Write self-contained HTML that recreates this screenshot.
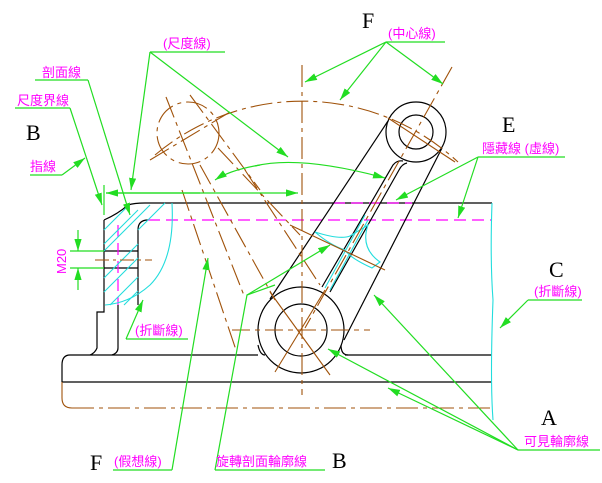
<!DOCTYPE html>
<html><head><meta charset="utf-8"><style>
body{margin:0;background:#fff}
svg{display:block}
.k{stroke:#000;fill:none;stroke-width:1.2}
.br{stroke:#a0520a;fill:none;stroke-width:1.1}
.bd{stroke:#a0520a;fill:none;stroke-width:1.1;stroke-dasharray:22 5 4 5}
.g{stroke:#22dd22;fill:none;stroke-width:1.2}
.c{stroke:#22dddd;fill:none;stroke-width:1.1}
.m{stroke:#ff00ff;fill:none;stroke-width:1.2;stroke-dasharray:12 6}
.t{fill:#ff00ff;font-family:"Liberation Sans","Noto Sans CJK TC",sans-serif;font-size:13px}
.L{fill:#000;font-family:"Liberation Serif",serif;font-size:22px}
</style></head><body>
<svg width="602" height="483" viewBox="0 0 602 483">
<defs><marker id="a" markerWidth="10" markerHeight="6" refX="10" refY="3" orient="auto"><path d="M0,0 L10,3 L0,6z" fill="#22dd22"/></marker></defs>

<!-- base -->
<path class="k" d="M258,355 H70 Q62,355 62,365 V382"/>
<path class="k" d="M345,355 H492"/>
<line class="k" x1="62" y1="382" x2="492" y2="382"/>
<path class="br" d="M62,382 V398 Q62,408 72,408"/>
<line class="bd" x1="72" y1="408" x2="492" y2="408"/>
<!-- upper body -->
<line class="k" x1="145" y1="203" x2="492" y2="203"/>
<path class="k" d="M104,220 Q118,214 128,205 Q134,203 145,203"/>
<path class="k" d="M104,220 V312 H97 V348 Q95,353 90,355"/>
<path class="k" d="M118,305 V348 Q118,353 112,355"/>
<path class="k" d="M138,305 V230 Q138,220 148,220"/>
<line class="k" x1="104" y1="251" x2="138" y2="251"/>
<line class="k" x1="104" y1="268" x2="138" y2="268"/>
<line class="m" x1="148" y1="220" x2="492" y2="220"/>
<line class="m" x1="333" y1="203" x2="412" y2="203"/>
<line class="m" x1="118" y1="225" x2="118" y2="305"/>
<!-- hatch -->
<g class="c" stroke-width="0.8">
<path d="M104,230 L126,208 M104,244 L138,210 M104,251 L150,205 M114,268 L138,244 M104,278 L138,244 M104,292 L138,258 M110,305 L138,277 M124,305 L138,291 M138,230 L165,203"/>
</g>
<path class="c" d="M172,203 Q175,260 150,285 Q130,303 105,305"/>
<line class="br" x1="95" y1="260" x2="152" y2="260" stroke-dasharray="14 4 3 4"/>
<path class="c" d="M492,203 Q490,260 493,300 Q490,380 493,420"/>

<!-- arm -->
<circle class="k" cx="301" cy="330" r="43"/>
<circle class="k" cx="301" cy="330" r="26"/>
<circle class="k" cx="416" cy="132" r="30"/>
<circle class="k" cx="416" cy="132" r="17"/>
<line class="k" x1="270" y1="299" x2="388" y2="121"/>
<line class="k" x1="344" y1="340" x2="442" y2="148"/>
<path class="k" d="M322,287 L393,165 Q397,160 403,161"/>
<path class="k" d="M330,292 L399,170 Q402,164 407,163"/>
<path class="k" d="M258,345 Q260,355 265,355"/>
<path class="k" d="M341,345 Q341,355 348,355"/>
<!-- rotated section -->
<path class="c" d="M315,232 Q340,240 350,236 L368,225 Q360,248 380,262 L372,268 Q350,258 345,250 Q330,245 315,232z"/>
<path class="c" d="M325,288 L365,215 M330,290 L368,220"/>

<!-- center lines -->
<line class="bd" x1="302" y1="65" x2="302" y2="395"/>
<line class="br" x1="232" y1="330" x2="370" y2="330" stroke-dasharray="18 5 5 5"/>
<path class="bd" d="M155,155 A229,229 0 0 1 458,162"/>
<line class="bd" x1="452" y1="67" x2="305" y2="328"/>
<line class="br" x1="388" y1="118" x2="455" y2="162"/>
<line class="br" x1="290" y1="225" x2="385" y2="270"/>
<line class="br" x1="275" y1="372" x2="325" y2="290"/>
<line class="br" x1="270" y1="292" x2="330" y2="375"/>
<!-- phantom -->
<circle class="bd" cx="188" cy="133" r="31" stroke-dasharray="8 4"/>
<line class="bd" x1="150" y1="160" x2="230" y2="112"/>
<line class="bd" x1="166" y1="97" x2="245" y2="298"/>
<line class="bd" x1="190" y1="95" x2="260" y2="190"/>
<line class="bd" x1="245" y1="170" x2="320" y2="285"/>
<line class="bd" x1="200" y1="165" x2="275" y2="300"/>
<line class="bd" x1="182" y1="190" x2="236" y2="350"/>
<line class="bd" x1="218" y1="148" x2="300" y2="235"/>

<!-- green -->
<g class="g">
<line x1="104" y1="185" x2="104" y2="215"/>
<line x1="106" y1="193" x2="298" y2="193" marker-end="url(#a)"/>
<line x1="200" y1="193" x2="106" y2="193" marker-end="url(#a)"/>
<path d="M260,165 Q230,170 215,180" marker-end="url(#a)"/>
<path d="M255,166 Q300,155 385,178" marker-end="url(#a)"/>
<line x1="150" y1="52" x2="225" y2="52"/>
<line x1="150" y1="52" x2="131" y2="190" marker-end="url(#a)"/>
<line x1="150" y1="52" x2="288" y2="157" marker-end="url(#a)"/>
<line x1="35" y1="80" x2="88" y2="80"/>
<line x1="88" y1="80" x2="130" y2="215" marker-end="url(#a)"/>
<line x1="15" y1="108" x2="70" y2="108"/>
<line x1="70" y1="108" x2="102" y2="205" marker-end="url(#a)"/>
<line x1="30" y1="175" x2="62" y2="175"/>
<line x1="62" y1="175" x2="85" y2="158" marker-end="url(#a)"/>
<line x1="386" y1="42" x2="445" y2="42"/>
<line x1="386" y1="42" x2="305" y2="82" marker-end="url(#a)"/>
<line x1="386" y1="42" x2="340" y2="100" marker-end="url(#a)"/>
<line x1="386" y1="42" x2="443" y2="84" marker-end="url(#a)"/>
<line x1="478" y1="157" x2="565" y2="157"/>
<line x1="478" y1="157" x2="396" y2="200" marker-end="url(#a)"/>
<line x1="478" y1="157" x2="458" y2="218" marker-end="url(#a)"/>
<line x1="528" y1="300" x2="582" y2="300"/>
<line x1="528" y1="300" x2="500" y2="328" marker-end="url(#a)"/>
<line x1="518" y1="450" x2="600" y2="450"/>
<line x1="518" y1="450" x2="374" y2="295" marker-end="url(#a)"/>
<line x1="518" y1="450" x2="388" y2="388" marker-end="url(#a)"/>
<line x1="518" y1="450" x2="328" y2="349" marker-end="url(#a)"/>
<line x1="126" y1="339" x2="188" y2="339"/>
<line x1="126" y1="339" x2="143" y2="300" marker-end="url(#a)"/>
<line x1="113" y1="470" x2="172" y2="470"/>
<line x1="172" y1="470" x2="208" y2="258" marker-end="url(#a)"/>
<line x1="215" y1="470" x2="325" y2="470"/>
<polyline points="215,470 247,295 275,285"/>
<line x1="247" y1="295" x2="330" y2="245" marker-end="url(#a)"/>
<line x1="78" y1="230" x2="78" y2="251" marker-end="url(#a)"/>
<line x1="78" y1="290" x2="78" y2="268" marker-end="url(#a)"/>
<line x1="70" y1="251" x2="104" y2="251"/>
<line x1="70" y1="268" x2="104" y2="268"/>
</g>

<!-- text -->
<text class="L" x="362" y="28">F</text>
<text class="t" x="388" y="38">(中心線)</text>
<text class="t" x="163" y="48">(尺度線)</text>
<text class="t" x="42" y="77">剖面線</text>
<text class="t" x="17" y="105">尺度界線</text>
<text class="L" x="26" y="140">B</text>
<text class="t" x="30" y="171">指線</text>
<text class="L" x="502" y="132">E</text>
<text class="t" x="482" y="153">隱藏線 (虛線)</text>
<text class="L" x="549" y="277">C</text>
<text class="t" x="534" y="296">(折斷線)</text>
<text class="L" x="541" y="425">A</text>
<text class="t" x="524" y="446">可見輪廓線</text>
<text class="t" x="135" y="335">(折斷線)</text>
<text class="t" transform="translate(66,274) rotate(-90)">M20</text>
<text class="L" x="90" y="470">F</text>
<text class="t" x="114" y="466">(假想線)</text>
<text class="t" x="216" y="466">旋轉剖面輪廓線</text>
<text class="L" x="332" y="468">B</text>
</svg>
</body></html>
